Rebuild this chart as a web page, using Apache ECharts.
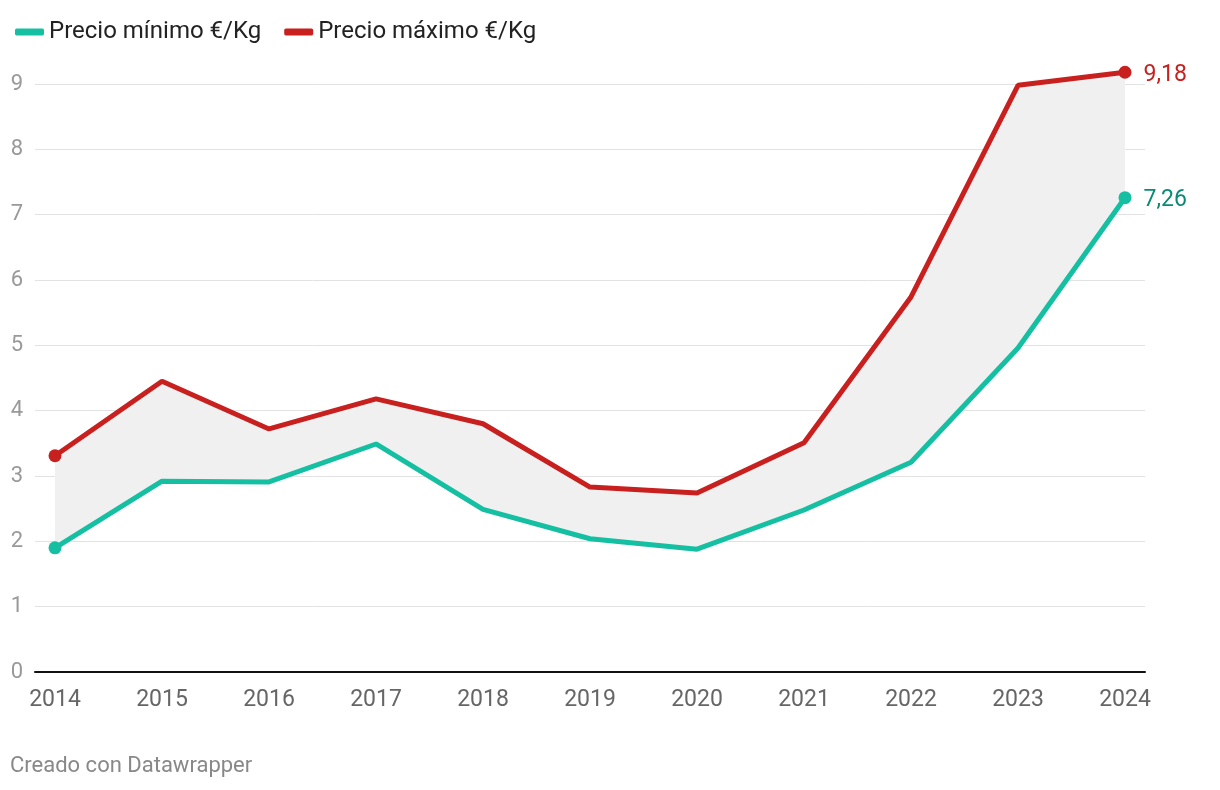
<!DOCTYPE html>
<html>
<head>
<meta charset="utf-8">
<script src="https://cdn.jsdelivr.net/npm/echarts@6/dist/echarts.min.js"></script>
<style>
html,body{margin:0;padding:0;background:#fff;}
#chart{width:1220px;height:790px;}
</style>
</head>
<body>
<div id="chart"></div>
<script>
const years = [2014, 2015, 2016, 2017, 2018, 2019, 2020, 2021, 2022, 2023, 2024];
const precioMin = [1.90, 2.92, 2.91, 3.49, 2.49, 2.04, 1.88, 2.48, 3.21, 4.96, 7.26];
const precioMax = [3.31, 4.45, 3.72, 4.18, 3.80, 2.83, 2.74, 3.51, 5.74, 8.98, 9.18];
const yTicks = [0, 1, 2, 3, 4, 5, 6, 7, 8, 9];
const nameMin = 'Precio mínimo €/Kg';
const nameMax = 'Precio máximo €/Kg';
const colMin = '#15bfa2';
const colMax = '#c8201f';

const chart = echarts.init(document.getElementById('chart'));
const last = years.length - 1;
const fmt = v => v.toFixed(2).replace('.', ',');

function lineData(vals, labelColor) {
  return years.map((y, i) => {
    const item = { value: [y, vals[i]] };
    if (i === last) {
      item.label = {
        show: true, position: 'right', distance: 12, offset: [0, 3],
        formatter: fmt(vals[i]), color: labelColor,
        fontSize: 23, fontFamily: 'Roboto'
      };
    }
    return item;
  });
}

const option = {
  animation: false,
  textStyle: { fontFamily: 'Roboto' },
  legend: {
    left: 10, top: 15,
    itemWidth: 29, itemHeight: 7, itemGap: 23,
    icon: 'roundRect',
    textStyle: { fontSize: 24, color: '#222', fontFamily: 'Roboto' },
    data: [
      { name: nameMin, itemStyle: { color: colMin } },
      { name: nameMax, itemStyle: { color: colMax } }
    ]
  },
  graphic: [{
    type: 'text', left: 10, top: 755,
    style: { text: 'Creado con Datawrapper', fill: '#888', fontSize: 22, fontFamily: 'Roboto' }
  }],
  grid: { left: 35, right: 75, top: 84, bottom: 118 },
  xAxis: {
    type: 'value',
    min: 2014 - 20 / 107, max: 2024 + 20 / 107,
    axisLine: { show: true, lineStyle: { color: '#111', width: 2 } },
    axisTick: { show: false },
    splitLine: { show: false },
    axisLabel: {
      customValues: years, margin: 17,
      color: '#666', fontSize: 23, fontFamily: 'Roboto',
      formatter: v => String(v)
    }
  },
  yAxis: {
    type: 'value', min: 0, max: 9, interval: 1,
    axisLine: { show: false }, axisTick: { show: false },
    splitLine: { lineStyle: { color: '#e2e2e2', width: 1 } },
    axisLabel: {
      customValues: yTicks, margin: 12,
      color: '#999', fontSize: 22, fontFamily: 'Roboto'
    }
  },
  series: [
    {
      name: 'band', type: 'custom', silent: true, z: 1,
      data: [0],
      renderItem: (params, api) => {
        const top = years.map((y, i) => api.coord([y, precioMax[i]]));
        const bottom = years.map((y, i) => api.coord([y, precioMin[i]])).reverse();
        return {
          type: 'polygon',
          shape: { points: top.concat(bottom) },
          style: { fill: '#f0f0f0' }
        };
      }
    },
    {
      name: nameMin, type: 'line', clip: false,
      data: lineData(precioMin, '#0b8a74'),
      color: colMin,
      lineStyle: { color: colMin, width: 5 },
      itemStyle: { color: colMin },
      symbol: 'circle', showSymbol: true,
      symbolSize: (v, p) => (p.dataIndex === 0 || p.dataIndex === last) ? 13 : 0,
      z: 3
    },
    {
      name: nameMax, type: 'line', clip: false,
      data: lineData(precioMax, colMax),
      color: colMax,
      lineStyle: { color: colMax, width: 5 },
      itemStyle: { color: colMax },
      symbol: 'circle', showSymbol: true,
      symbolSize: (v, p) => (p.dataIndex === 0 || p.dataIndex === last) ? 13 : 0,
      z: 4
    }
  ]
};
chart.setOption(option);
</script>
</body>
</html>
